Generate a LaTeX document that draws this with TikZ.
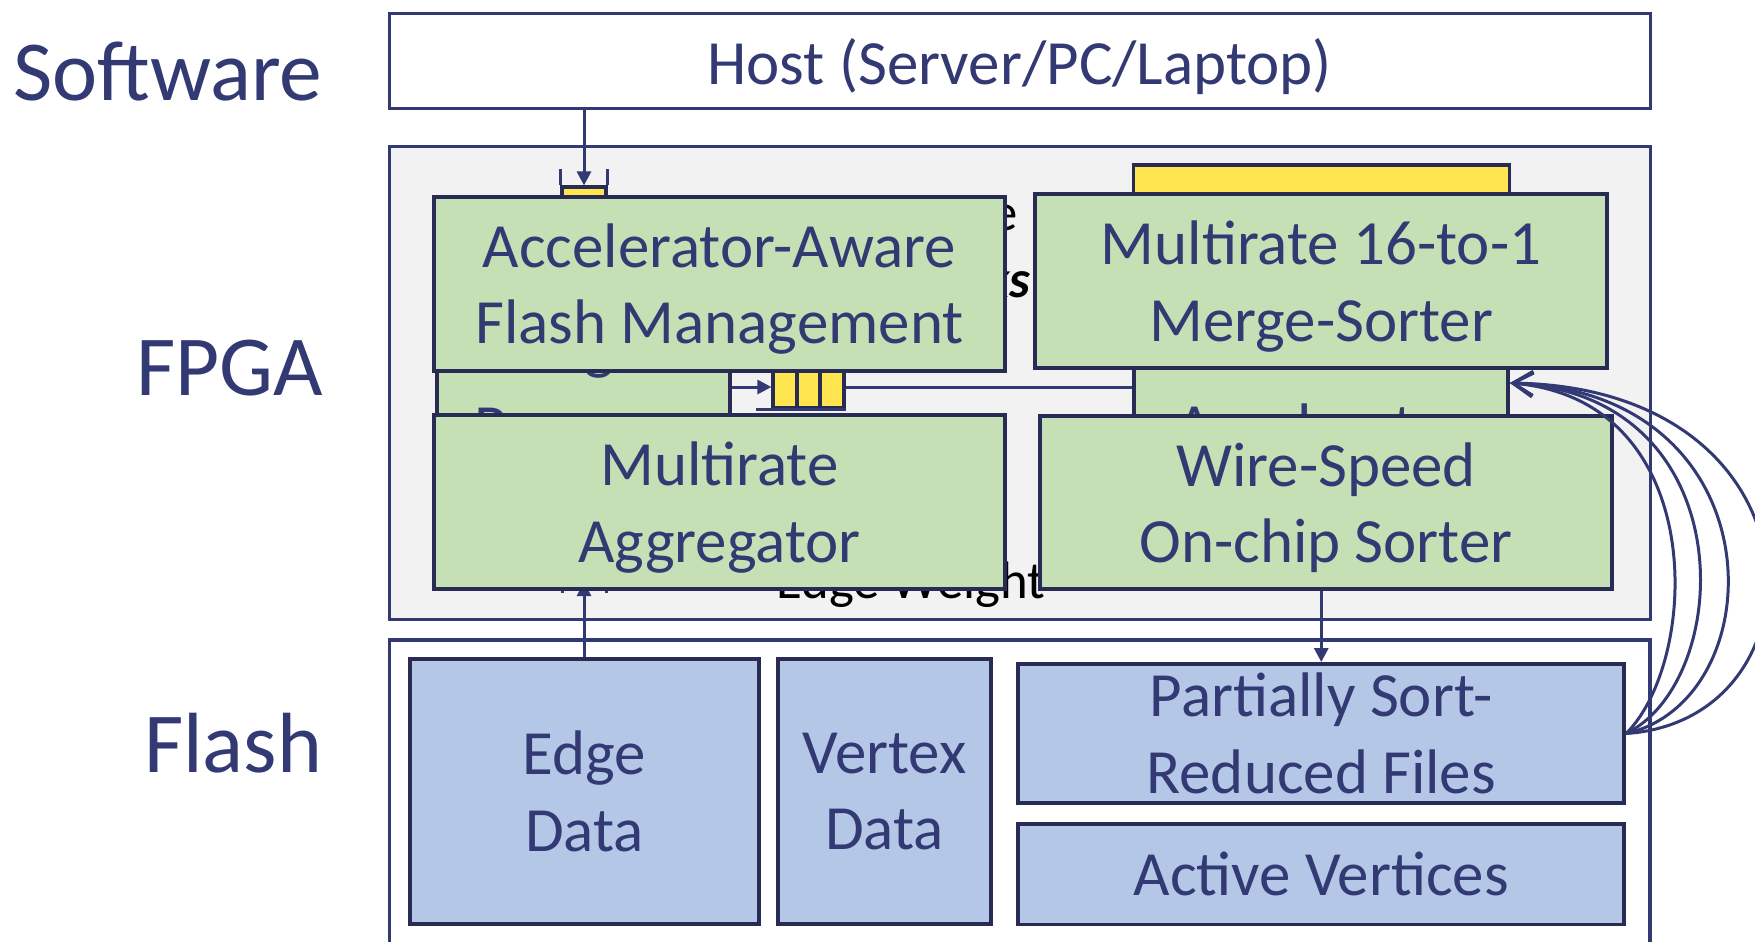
\documentclass[tikz,border=0pt]{standalone}
\usepackage{fontspec}
\setmainfont{Carlito}
\usetikzlibrary{arrows.meta}

\definecolor{ink}{RGB}{51,57,115}
\definecolor{frame}{RGB}{40,44,84}
\definecolor{fpgabg}{RGB}{242,242,242}
\definecolor{modgreen}{RGB}{197,224,180}
\definecolor{storeblue}{RGB}{180,199,231}
\definecolor{fifoyel}{RGB}{255,229,80}

% a line whose descenders do not count for vertical centring
\newcommand{\flatline}[1]{\raisebox{0pt}[\height][0pt]{#1}}

\tikzset{
  layer/.style={font=\fontsize{24.3}{29}\selectfont, text=ink, inner sep=0pt, anchor=base east},
  blk/.style={draw=frame, line width=1.1pt, inner sep=0pt, align=center, text=ink,
              font=\fontsize{17.9}{21.8}\selectfont},
  module/.style={blk, fill=modgreen},
  store/.style={blk, fill=storeblue},
  hiddentext/.style={text=ink, font=\fontsize{17.9}{21.8}\selectfont, anchor=base, inner sep=0pt},
  region/.style={draw=ink, line width=0.9pt, inner sep=0pt},
  fifocell/.style={draw=frame, line width=0.9pt, fill=fifoyel, inner sep=0pt},
  link/.style={draw=ink, line width=0.85pt},
  headarrow/.style={link, -{Triangle[length=0.14cm,width=0.14cm]}},
  barbarrow/.style={link, -{Straight Barb[length=0.2cm,width=0.24cm]}},
  backtext/.style={font=\fontsize{15}{18}\selectfont, text=black, inner sep=0pt},
}

\begin{document}
\begin{tikzpicture}[x=0.01cm,y=-0.01cm]
\useasboundingbox (0,0) rectangle (1755,941);
\fill[white] (0,0) rectangle (1755,941);
\clip (0,0) rectangle (1755,941);

% layer names
\node[layer] (lsw) at (323,100) {Software};
\node[layer] (lfp) at (324,395) {FPGA};
\node[layer] (lfl) at (323,772) {Flash};

% host, FPGA and flash regions
\node[region, fill=fpgabg, minimum width=12.605cm, minimum height=4.72cm] (fpga) at (1019.75,383) {};
\draw[region, fill=white] (389.5,640) rectangle (1650,1000);
\node[blk, fill=white, line width=0.85pt, draw=ink, minimum width=12.605cm, minimum height=0.95cm]
  (host) at (1019.75,61) {\flatline{Host (Server/PC/Laptop)}};

% labels lying underneath the front modules
\node[backtext, anchor=base east] (tfrag) at (1018,230) {e};
\node[backtext, anchor=base east, font=\fontsize{15}{18}\selectfont\bfseries\itshape] (kfrag) at (1031,297) {ks};
\node[backtext, anchor=base west] (ewt) at (776,598) {Edge Weight};

% back layer: edge program, accelerator and buffers
\node[fifocell, minimum width=3.75cm, minimum height=0.75cm] (ybar) at (1321.5,202.5) {};
\node[module, minimum width=2.93cm, minimum height=1.8cm] (ep) at (583.5,387) {};
\node[hiddentext] (ep1) at (583.5,367) {Edge};
\node[hiddentext] (ep2) at (583.5,448) {Program};
\node[module, minimum width=3.74cm, minimum height=1.7cm] (accel) at (1321,415) {};
\node[hiddentext] (acct) at (1323,447) {Accelerator};
\coordinate (accIn) at (1510,383);

% host input buffer
\node[fifocell, minimum width=0.44cm, minimum height=0.5cm] (fifoA) at (584,212) {};
\draw[link] (fifoA.north west) -- ++(0,-16) (fifoA.north east) -- ++(0,-16);
\draw[headarrow] (host.south -| fifoA.north) -- (fifoA.north);

% edge stream buffer
\coordinate (aggIn) at (584,582);
\draw[link] (562,560) -- (562,593) (606,560) -- (606,593);

% edge program output buffer
\node[fifocell, minimum width=0.71cm, minimum height=0.48cm] (fifoC) at (808.5,384) {};
\draw[draw=frame, line width=0.9pt] (797,360) -- (797,408) (820,360) -- (820,408);
\draw[link, line width=0.9pt] ([xshift=-0.15cm]fifoC.south west) -- (fifoC.south east);
\draw[headarrow] (ep.east |- 0,387) -- (fifoC.west |- 0,387);
\draw[link] (fifoC.east |- 0,387) -- (accel.west |- 0,387);

% stream from edge data
\node[store, minimum width=3.49cm, minimum height=2.65cm] (ed) at (584.5,791.5) {Edge\\Data};
\draw[headarrow] (ed.north -| aggIn) -- (aggIn);

% front modules
\node[module, minimum width=5.71cm, minimum height=1.735cm] (afm) at (719.5,283.75)
  {Accelerator-Aware\\\flatline{Flash Management}};
\node[module, minimum width=5.72cm, minimum height=1.744cm] (ms) at (1321,280.8)
  {Multirate 16-to-1\\\flatline{Merge-Sorter}};
\node[module, minimum width=5.71cm, minimum height=1.74cm] (agg) at (719.5,502)
  {Multirate\\\flatline{Aggregator}};
\node[module, minimum width=5.72cm, minimum height=1.73cm] (ws) at (1326,502.5)
  {Wire-Speed\\\flatline{On-chip Sorter}};

% flash contents
\node[store, minimum width=2.13cm, minimum height=2.65cm] (vd) at (884.5,791.5) {Vertex\\Data};
\node[store, minimum width=6.055cm, minimum height=1.39cm] (psr) at (1321.25,733.5) {Partially Sort-\\Reduced Files};
\node[store, minimum width=6.055cm, minimum height=1.005cm] (av) at (1321.25,874.25) {Active Vertices};

% sorter output to flash
\draw[headarrow] (psr.north |- ws.south) -- (psr.north);

% sort-reduced files read back into the merge-sorter
\draw[barbarrow] (psr.east) .. controls (1700,660) and (1710,400) .. (accIn);
\draw[barbarrow] (psr.east) .. controls (1735,680) and (1745,395) .. (accIn);
\draw[barbarrow] (psr.east) .. controls (1775,700) and (1780,392) .. (accIn);
\draw[barbarrow] (psr.east) .. controls (1830,720) and (1830,388) .. (accIn);
\end{tikzpicture}
\end{document}
